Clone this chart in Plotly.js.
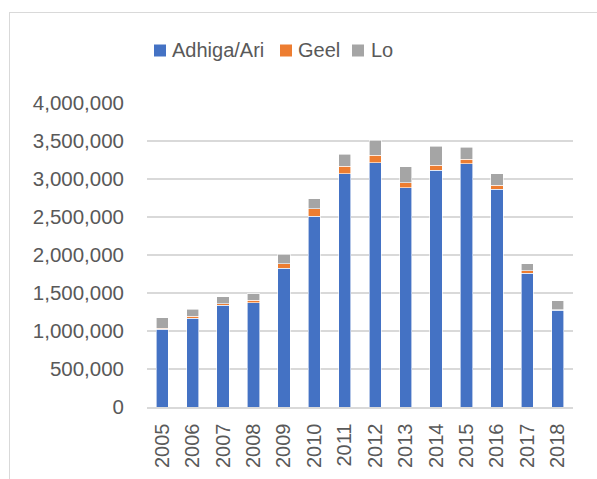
<!DOCTYPE html>
<html>
<head>
<meta charset="utf-8">
<script src="https://cdn.plot.ly/plotly-3.0.1.min.js"></script>
<style>
html,body{margin:0;padding:0;background:#fff;overflow:hidden;}
#frame{position:absolute;left:9px;top:12px;width:700px;height:600px;border-left:1px solid #d9d9d9;border-top:1px solid #d9d9d9;}
#chart{position:absolute;left:0;top:0;width:597px;height:479px;}
</style>
</head>
<body>
<div id="frame"></div>
<div id="chart"></div>
<script>
const years = ['2005','2006','2007','2008','2009','2010','2011','2012','2013','2014','2015','2016','2017','2018'];
const adhiga = [1025000,1171000,1342000,1373000,1829000,2513000,3066000,3211000,2882000,3118000,3202000,2868000,1763000,1272000];
const geel   = [10000,26000,15000,30000,53000,96000,105000,101000,66000,61000,57000,53000,31000,9000];
const lo     = [140000,92000,95000,88000,131000,132000,158000,197000,210000,255000,158000,149000,92000,114000];
const seriesNames = ['Adhiga/Ari','Geel','Lo'];
const colors = ['#4472C4','#ED7D31','#A5A5A5'];
const values = [adhiga, geel, lo];

const traces = values.map((v,i)=>({
  type:'bar', x: years, y: v, name: seriesNames[i],
  marker:{color: colors[i], line:{color:'#ffffff', width:0.6}},
  hoverinfo:'x+y+name', showlegend:false
}));

// plot area geometry (pixels) for custom legend placement
const L = 147, R = 573, T = 103, B = 407;
const px2x = p => (p - L) / (R - L);
const py2y = p => (B - p) / (B - T);
const legendSquareLeft = [154, 280, 352];
const legendTextLeft = [171, 297, 370];
const shapes = seriesNames.map((n,i)=>({
  type:'rect', xref:'paper', yref:'paper',
  x0: px2x(legendSquareLeft[i]), x1: px2x(legendSquareLeft[i] + 12),
  y0: py2y(56.5), y1: py2y(44.5),
  fillcolor: colors[i], line:{width:0}
}));
const font = {family:'Liberation Sans, Arial, sans-serif', size:20, color:'#595959'};
const annotations = seriesNames.map((n,i)=>({
  text: n, xref:'paper', yref:'paper', x: px2x(legendTextLeft[i]), y: py2y(50.5),
  xanchor:'left', yanchor:'middle', showarrow:false, font: font, xshift:-1
}));

const layout = {
  width:597, height:479,
  margin:{l:L, r:597-R, t:T, b:479-B, pad:0},
  paper_bgcolor:'rgba(0,0,0,0)', plot_bgcolor:'rgba(0,0,0,0)',
  barmode:'stack', bargap:0.6,
  font: font,
  showlegend:false,
  shapes: shapes, annotations: annotations,
  xaxis:{type:'category', tickangle:-90, showgrid:false, showline:true, linecolor:'#d9d9d9', linewidth:1.5,
         ticks:'', tickfont:font, ticklabelstandoff:7},
  yaxis:{range:[0,4000000], dtick:500000, tickformat:',d', showgrid:true, gridcolor:'#d9d9d9', gridwidth:1.5,
         zeroline:false, showline:false, ticks:'', tickfont:{family:font.family, size:20.5, color:'#595959'}, ticklabelstandoff:22}
};
Plotly.newPlot('chart', traces, layout, {displayModeBar:false, staticPlot:true});
</script>
</body>
</html>
